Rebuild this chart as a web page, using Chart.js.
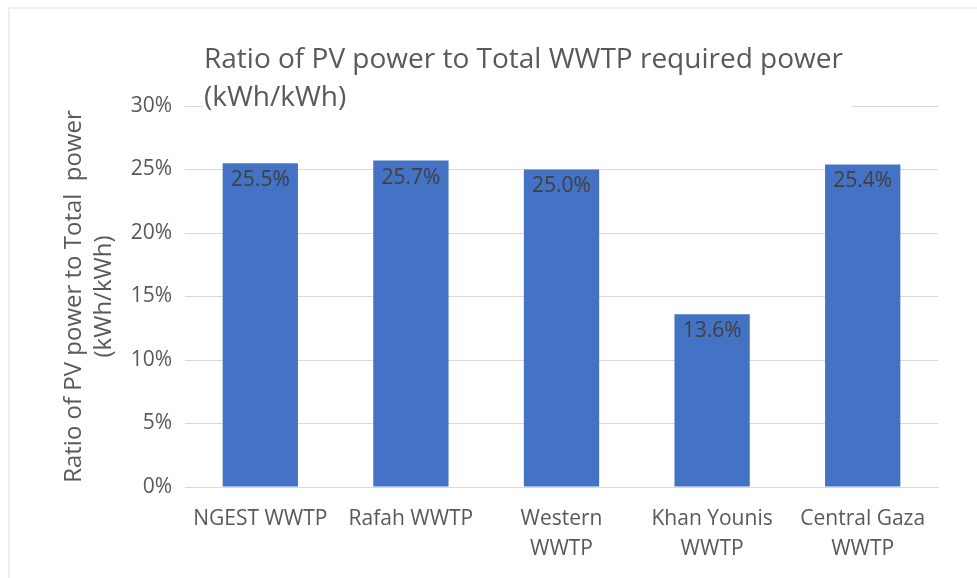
<!DOCTYPE html>
<html>
<head>
<meta charset="utf-8">
<script src="https://cdn.jsdelivr.net/npm/chart.js@4.4.1/dist/chart.umd.min.js"></script>
<style>
  html, body { margin: 0; padding: 0; background: #ffffff; }
  #wrap { position: relative; width: 977px; height: 578px; overflow: hidden; }
  #frame { position: absolute; left: 8px; top: 7px; width: 1000px; height: 600px;
           border-top: 2px solid #eeeeee; border-left: 2px solid #eeeeee; }
  canvas { position: absolute; left: 0; top: 0; }
</style>
</head>
<body>
<div id="wrap">
  <div id="frame"></div>
  <canvas id="c" width="977" height="578"></canvas>
</div>
<script>
const categories = [
  'NGEST WWTP',
  'Rafah WWTP',
  ['Western', 'WWTP'],
  ['Khan Younis', 'WWTP'],
  ['Central Gaza', 'WWTP']
];
const ratioValues = [25.5, 25.7, 25.0, 13.6, 25.4];
const chartTitleLines = ['Ratio of PV power to Total WWTP required power', '(kWh/kWh)'];
const yTitleLines = ['Ratio of PV power to Total  power', '(kWh/kWh)'];

const FONT = "'Open Sans', 'Noto Sans', sans-serif";
const TEXT = '#595959';

const titlePlugin = {
  id: 'boxTitle',
  beforeDatasetsDraw(chart) {
    const ctx = chart.ctx;
    ctx.save();
    ctx.fillStyle = '#ffffff';
    ctx.fillRect(203, 30, 649, 84);
    ctx.fillStyle = TEXT;
    ctx.font = "28px " + FONT;
    ctx.textAlign = 'left';
    ctx.textBaseline = 'alphabetic';
    ctx.fillText(chartTitleLines[0], 204, 68);
    ctx.fillText(chartTitleLines[1], 204, 106);
    ctx.restore();
  }
};

const labelPlugin = {
  id: 'barLabels',
  afterDatasetsDraw(chart) {
    const ctx = chart.ctx;
    const meta = chart.getDatasetMeta(0);
    ctx.save();
    ctx.fillStyle = '#404040';
    ctx.font = "21px " + FONT;
    ctx.textAlign = 'center';
    ctx.textBaseline = 'middle';
    meta.data.forEach((bar, i) => {
      ctx.fillText(ratioValues[i].toFixed(1) + '%', bar.x, bar.y + 17);
    });
    ctx.restore();
  }
};

new Chart(document.getElementById('c'), {
  type: 'bar',
  data: {
    labels: categories,
    datasets: [{
      data: ratioValues,
      backgroundColor: '#4472C4',
      borderWidth: 0,
      barPercentage: 0.5,
      categoryPercentage: 1.0
    }]
  },
  options: {
    responsive: false,
    animation: false,
    devicePixelRatio: 1,
    layout: { padding: { top: 106, right: 39, left: 0, bottom: 0 } },
    plugins: {
      legend: { display: false },
      title: { display: false },
      tooltip: { enabled: false }
    },
    scales: {
      x: {
        grid: { display: false, drawTicks: false },
        border: { display: true, color: '#d9d9d9', width: 1 },
        ticks: {
          color: TEXT,
          font: { family: FONT, size: 21, lineHeight: '30px' },
          padding: 17,
          autoSkip: false,
          maxRotation: 0,
          minRotation: 0
        },
        afterFit(scale) { scale.height = 91; }
      },
      y: {
        min: 0,
        max: 30,
        grid: { color: '#d9d9d9', lineWidth: 1, drawTicks: false },
        border: { display: false },
        ticks: {
          stepSize: 5,
          color: TEXT,
          font: { family: FONT, size: 21 },
          padding: 13,
          callback: (v) => v + '%'
        },
        title: {
          display: true,
          text: yTitleLines,
          color: TEXT,
          font: { family: FONT, size: 24, lineHeight: '30px' },
          padding: { top: 59, bottom: 0 }
        },
        afterFit(scale) { scale.width = 185; }
      }
    }
  },
  plugins: [titlePlugin, labelPlugin]
});
</script>
</body>
</html>
